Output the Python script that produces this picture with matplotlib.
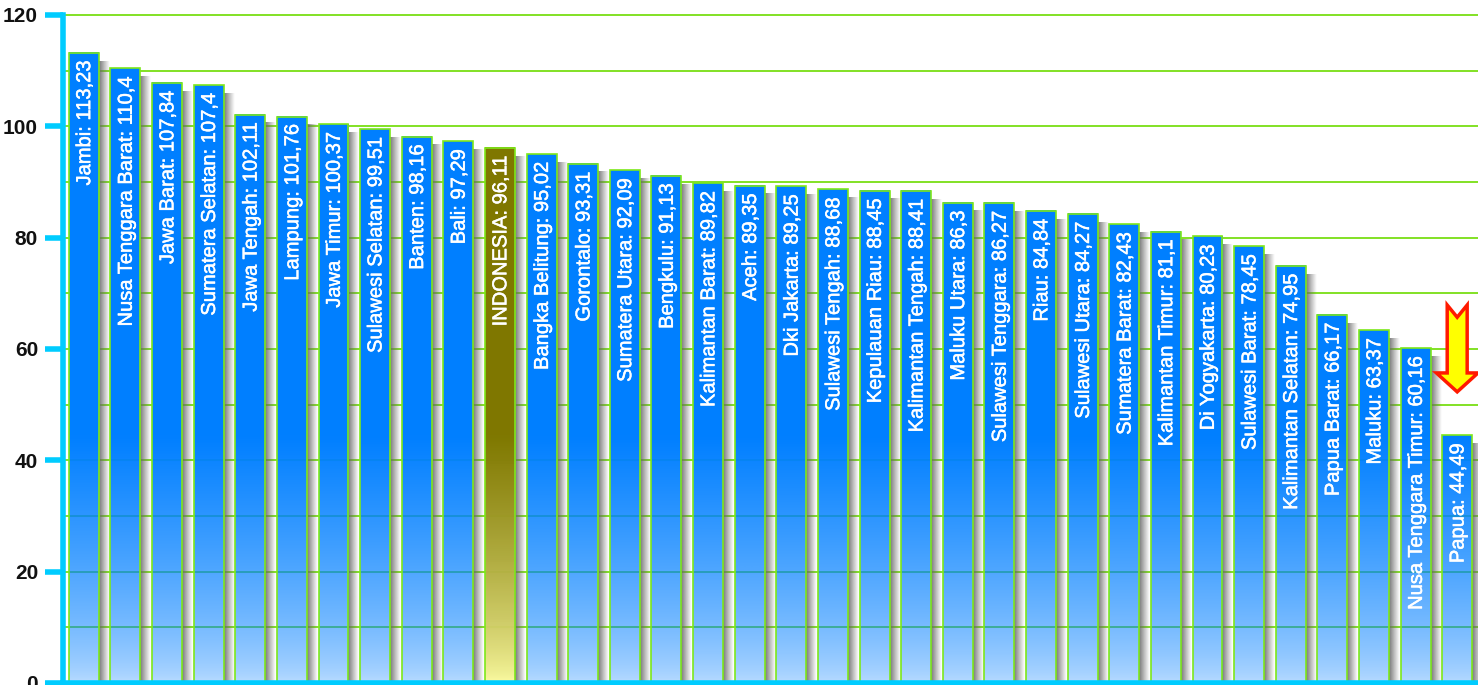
import numpy as np
import matplotlib.pyplot as plt
import matplotlib.patheffects as pe
from matplotlib.patches import Polygon

plt.rcParams['font.family'] = ['Liberation Sans', 'DejaVu Sans']

provinces = ["Jambi", "Nusa Tenggara Barat", "Jawa Barat", "Sumatera Selatan", "Jawa Tengah",
             "Lampung", "Jawa Timur", "Sulawesi Selatan", "Banten", "Bali", "INDONESIA",
             "Bangka Belitung", "Gorontalo", "Sumatera Utara", "Bengkulu", "Kalimantan Barat",
             "Aceh", "Dki Jakarta", "Sulawesi Tengah", "Kepulauan Riau", "Kalimantan Tengah",
             "Maluku Utara", "Sulawesi Tenggara", "Riau", "Sulawesi Utara", "Sumatera Barat",
             "Kalimantan Timur", "Di Yogyakarta", "Sulawesi Barat", "Kalimantan Selatan",
             "Papua Barat", "Maluku", "Nusa Tenggara Timur", "Papua"]
values = [113.23, 110.4, 107.84, 107.4, 102.11, 101.76, 100.37, 99.51, 98.16, 97.29, 96.11,
          95.02, 93.31, 92.09, 91.13, 89.82, 89.35, 89.25, 88.68, 88.45, 88.41, 86.3, 86.27,
          84.84, 84.27, 82.43, 81.1, 80.23, 78.45, 74.95, 66.17, 63.37, 60.16, 44.49]
highlight = "INDONESIA"

W, H = 1478, 685
fig = plt.figure(figsize=(W / 100, H / 100), dpi=100)
ax = fig.add_axes([63 / W, 2 / H, (W - 63) / W, (683 - 15) / H])

n = len(values)
x = np.arange(n)
bw = 0.72

# gridlines every 10 (drawn unclipped so the 120 line shows fully)
for gy in range(10, 121, 10):
    ax.axhline(gy, color='#78de14', linewidth=1.3, zorder=0, clip_on=False)


def bar_rgba(v, top, bottom, amin):
    ys = np.linspace(v, 0, 200)
    t = np.clip(ys / 44.0, 0, 1) ** 0.7
    arr = np.zeros((200, 1, 4))
    for k in range(3):
        arr[:, 0, k] = bottom[k] + (top[k] - bottom[k]) * t
    arr[:, 0, 3] = amin + (1 - amin) * t
    return arr


blue = (0.0, 0.50, 1.0)
olive_top = (0.50, 0.47, 0.0)
olive_bot = (0.99, 0.99, 0.62)

# shadow strip: gray, fading to the right
sh = np.zeros((1, 50, 4))
sh[0, :, :3] = 0.40
sh[0, :, 3] = np.linspace(0.9, 0.0, 50) ** 1.1

for i, (name, v) in enumerate(zip(provinces, values)):
    x0, x1 = i - bw / 2, i + bw / 2
    ax.imshow(sh, extent=[x1, x1 + 0.26, 0, v - 1.5], aspect='auto', zorder=1,
              interpolation='bilinear')
    if name == highlight:
        img = bar_rgba(v, olive_top, olive_bot, 0.95)
    else:
        img = bar_rgba(v, blue, blue, 0.28)
    ax.imshow(img, extent=[x0, x1, 0, v], aspect='auto', zorder=2, interpolation='bilinear')
    label = f"{name}: {v:g}".replace('.', ',')
    ax.text(i + 0.02, v - 1.4, label, rotation=90, ha='center', va='top', color='white',
            fontsize=14.5, zorder=4,
            path_effects=[pe.withStroke(linewidth=0.35, foreground='white')])

ax.bar(x, values, width=bw, facecolor='none', edgecolor='#7ee81a', linewidth=1.2, zorder=3)

# arrow above the last bar
ci = n - 1
arrow = [(ci - 0.24, 67.9), (ci, 65.7), (ci + 0.24, 67.9), (ci + 0.24, 55.7), (ci + 0.5, 55.7),
         (ci, 52.3), (ci - 0.5, 55.7), (ci - 0.24, 55.7)]
ax.add_patch(Polygon(arrow, closed=True, facecolor='#ffff00', edgecolor='#ff1a00',
                     linewidth=2.5, zorder=5, joinstyle='miter'))

ax.set_xlim(-0.5, n - 0.5)
ax.set_ylim(0, 120)
ax.set_xticks([])
ax.set_yticks(np.arange(0, 121, 20))
for s in ('top', 'right'):
    ax.spines[s].set_visible(False)
for s in ('left', 'bottom'):
    ax.spines[s].set_color('#00ccff')
    ax.spines[s].set_linewidth(4)
    ax.spines[s].set_zorder(6)
ax.tick_params(axis='y', length=13, width=4, color='#00ccff', pad=5, labelsize=15)
for lab in ax.get_yticklabels():
    lab.set_fontweight('bold')
    lab.set_color('#111111')

fig.savefig('out.png', dpi=100)
